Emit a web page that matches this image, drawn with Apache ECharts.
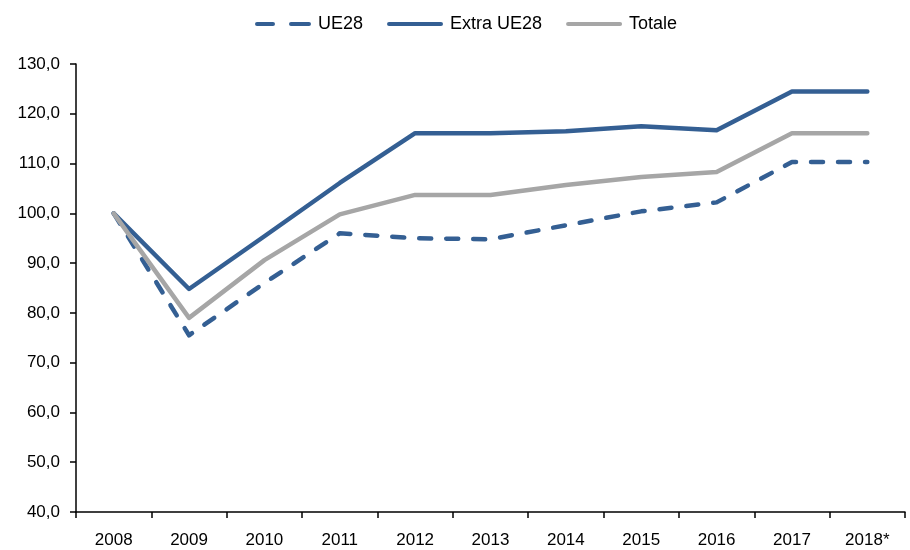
<!DOCTYPE html>
<html>
  <head>
    <meta charset="utf-8" />
    <title>UE28 / Extra UE28 / Totale</title>
    <script src="https://cdnjs.cloudflare.com/ajax/libs/echarts/6.0.0/echarts.min.js"></script>
  </head>
  <body>
    <style>
      html, body { margin: 0; padding: 0; background: #fff; }
      #main { width: 910px; height: 550px; }
    </style>
    <div id="main"></div>
    <script type="text/javascript">
      var years = ['2008', '2009', '2010', '2011', '2012', '2013', '2014', '2015', '2016', '2017', '2018*'];
      var ue28 = [100.0, 75.5, 86.0, 96.0, 95.0, 94.8, 97.6, 100.4, 102.2, 110.3, 110.3];
      var extraUe28 = [100.0, 84.8, 95.4, 106.1, 116.1, 116.1, 116.5, 117.5, 116.7, 124.5, 124.5];
      var totale = [100.0, 79.0, 90.6, 99.8, 103.7, 103.7, 105.7, 107.3, 108.3, 116.1, 116.1];

      var blue = '#345f93';
      var grey = '#a6a6a6';
      var font = 'Liberation Sans';

      // legend icons: plain bars, the dashed one split in two
      var solidIcon = 'path://M2,0H54A2,2 0 0 1 54,4H2A2,2 0 0 1 2,0Z';
      var dashIcon = 'path://M2,0H18A2,2 0 0 1 18,4H2A2,2 0 0 1 2,0Z M36,0H54A2,2 0 0 1 54,4H36A2,2 0 0 1 36,0Z';

      var chart = echarts.init(document.getElementById('main'));

      function mkLine(name, data, color, dashed, z) {
        return {
          name: name,
          type: 'line',
          data: data,
          symbol: 'none',
          z: z,
          lineStyle: {
            color: color,
            width: 4.5,
            type: dashed ? [12, 15] : 'solid',
            cap: 'round',
            join: 'round'
          },
          itemStyle: { color: color }
        };
      }

      var option = {
        animation: false,
        textStyle: { fontFamily: font },
        legend: {
          top: 10,
          left: 250,
          itemWidth: 56,
          itemHeight: 4,
          itemGap: 24,
          symbolKeepAspect: false,
          textStyle: { fontFamily: font, fontSize: 18, color: '#000', padding: [0, 0, 0, 2] },
          data: [
            { name: 'UE28', icon: dashIcon, itemStyle: { color: blue } },
            { name: 'Extra UE28', icon: solidIcon, itemStyle: { color: blue } },
            { name: 'Totale', icon: solidIcon, itemStyle: { color: grey } }
          ]
        },
        grid: { left: 76, right: 5, top: 64, bottom: 38 },
        xAxis: {
          type: 'category',
          data: years,
          boundaryGap: true,
          axisLine: { lineStyle: { color: '#000', width: 1.5 } },
          axisTick: { show: true, length: 6, lineStyle: { color: '#000', width: 1.5 } },
          axisLabel: { color: '#000', fontSize: 17, fontFamily: font, margin: 20 },
          splitLine: { show: false }
        },
        yAxis: {
          type: 'value',
          min: 40,
          max: 130,
          interval: 10,
          axisLine: { show: true, lineStyle: { color: '#000', width: 1.5 } },
          axisTick: { show: true, length: 6, lineStyle: { color: '#000', width: 1.5 } },
          axisLabel: {
            color: '#000', fontSize: 17, fontFamily: font, margin: 16,
            formatter: function (v) { return v.toFixed(1).replace('.', ','); }
          },
          splitLine: { show: false }
        },
        series: [
          mkLine('UE28', ue28, blue, true, 2),
          mkLine('Extra UE28', extraUe28, blue, false, 3),
          mkLine('Totale', totale, grey, false, 4)
        ]
      };

      chart.setOption(option);
    </script>
  </body>
</html>
